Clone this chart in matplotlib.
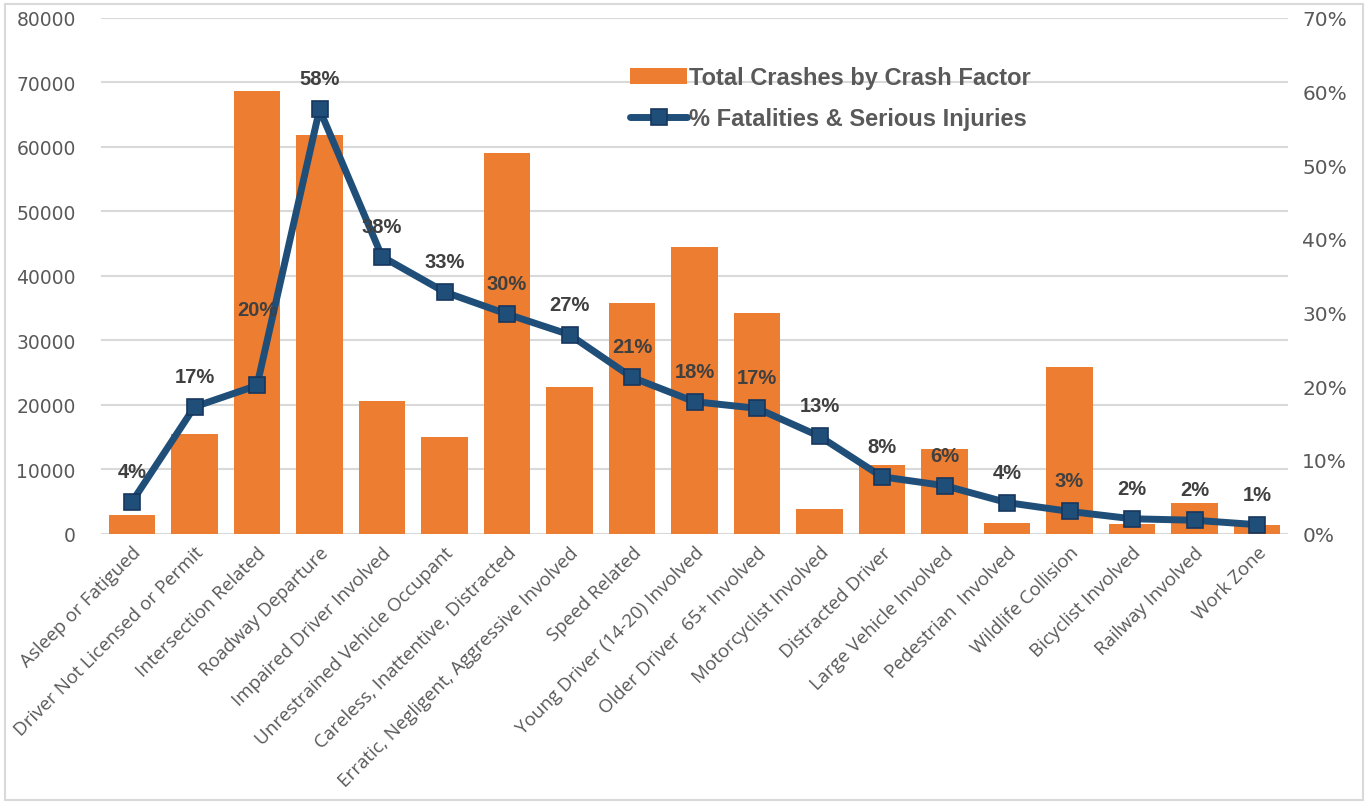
import matplotlib.pyplot as plt
from matplotlib.patches import Rectangle
from matplotlib.ticker import FuncFormatter, MultipleLocator

categories = [
    "Asleep or Fatigued", "Driver Not Licensed or Permit", "Intersection Related",
    "Roadway Departure", "Impaired Driver Involved", "Unrestrained Vehicle Occupant",
    "Careless, Inattentive, Distracted", "Erratic, Negligent, Aggressive Involved",
    "Speed Related", "Young Driver (14-20) Involved", "Older Driver  65+ Involved",
    "Motorcyclist Involved", "Distracted Driver", "Large Vehicle Involved",
    "Pedestrian  Involved", "Wildlife Collision", "Bicyclist Involved",
    "Railway Involved", "Work Zone",
]
total_crashes = [2800, 15400, 68700, 61800, 20500, 15000, 59000, 22700, 35700,
                 44400, 34250, 3750, 10700, 13100, 1600, 25800, 1500, 4700, 1350]
pct_fatal_serious = [4.3, 17.2, 20.1, 57.6, 37.6, 32.8, 29.8, 27.0, 21.2,
                     17.9, 17.0, 13.2, 7.7, 6.5, 4.2, 3.0, 2.0, 1.8, 1.2]

ORANGE = "#ED7D31"
BLUE = "#1F4E79"
GRAY = "#595959"

fig = plt.figure(figsize=(13.69, 8.03), dpi=100)
ax = fig.add_axes([100.75 / 1369, 1 - 534.5 / 803, 1187.5 / 1369, 515.5 / 803])
x = list(range(len(categories)))

ax.bar(x, total_crashes, width=0.74, color=ORANGE, zorder=2,
       label="Total Crashes by Crash Factor")
ax.set_ylim(0, 80000)
ax.set_xlim(-0.5, len(categories) - 0.5)
ax.yaxis.set_major_locator(MultipleLocator(10000))
ax.grid(axis="y", color="#D9D9D9", linewidth=1.5, zorder=0)
ax.set_axisbelow(True)
for s in ax.spines.values():
    s.set_visible(False)
ax.tick_params(axis="both", length=0)
ax.tick_params(axis="y", labelsize=13.5, labelcolor=GRAY, pad=18)
ax.set_xticks(x)
ax.set_xticklabels(categories, rotation=45, ha="right", rotation_mode="anchor",
                   fontsize=13.5, color=GRAY, family="Open Sans")
ax.tick_params(axis="x", pad=7)

ax2 = ax.twinx()
ax2.plot(x, pct_fatal_serious, color=BLUE, linewidth=5, marker="s", markersize=11.5,
         markerfacecolor=BLUE, markeredgecolor="#17375E", markeredgewidth=1.2,
         solid_capstyle="round", zorder=3, label="% Fatalities & Serious Injuries")
ax2.set_ylim(0, 70)
ax2.yaxis.set_major_locator(MultipleLocator(10))
ax2.yaxis.set_major_formatter(FuncFormatter(lambda v, p: f"{v:.0f}%"))
for s in ax2.spines.values():
    s.set_visible(False)
ax2.tick_params(axis="y", length=0, labelsize=14.5, labelcolor=GRAY, pad=10)

# percentage labels above the markers
for i, v in enumerate(pct_fatal_serious):
    dy = 55 if i == 2 else 22
    ax2.annotate(f"{v:.0f}%", (i, v), xytext=(0, dy), textcoords="offset points",
                 ha="center", va="center", fontsize=14.5, fontweight="bold",
                 color="#404040", family="Liberation Sans")

h1, l1 = ax.get_legend_handles_labels()
h2, l2 = ax2.get_legend_handles_labels()
leg = ax2.legend(h1 + h2, l1 + l2, loc="upper left", bbox_to_anchor=(0.428, 0.948),
                 frameon=False, handlelength=2.4, handleheight=0.65, handletextpad=0.1,
                 labelspacing=0.78,
                 prop={"family": "Liberation Sans", "weight": "bold", "size": 17})
for t in leg.get_texts():
    t.set_color(GRAY)

fig.patches.append(Rectangle((5 / 1369, 0.002), 1358 / 1369, 1 - 0.008,
                             transform=fig.transFigure, fill=False,
                             edgecolor="#D9D9D9", linewidth=1.5))

fig.savefig("out.png", dpi=100)
